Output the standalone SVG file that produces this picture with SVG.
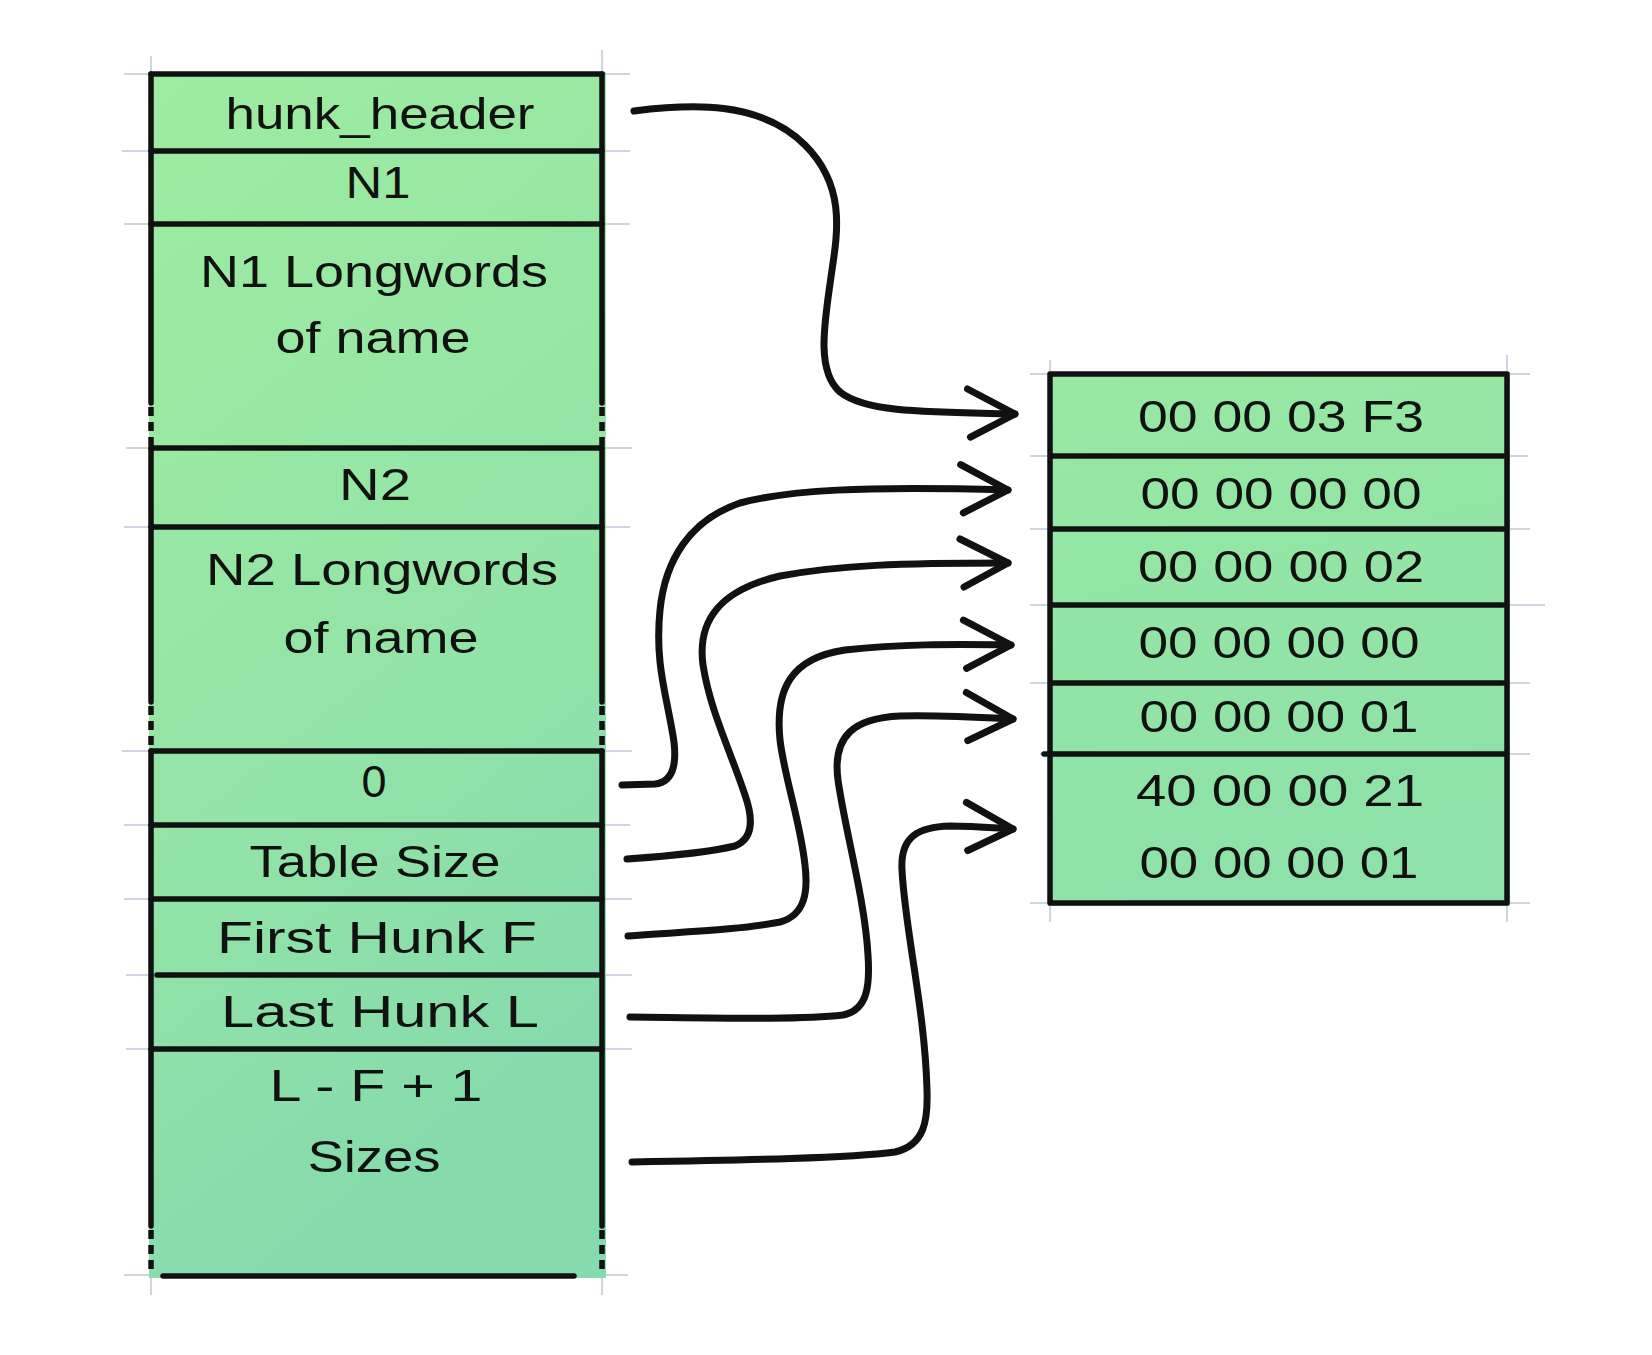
<svg xmlns="http://www.w3.org/2000/svg" width="1652" height="1355" viewBox="0 0 1652 1355">
<defs>
<linearGradient id="gL" x1="0" y1="0" x2="0.3" y2="1">
<stop offset="0" stop-color="#9eeca0"/>
<stop offset="0.6" stop-color="#93e4a6"/>
<stop offset="1" stop-color="#86dbad"/>
</linearGradient>
<linearGradient id="gR" x1="0" y1="0" x2="0.2" y2="1">
<stop offset="0" stop-color="#97e8a2"/>
<stop offset="1" stop-color="#8ee1a8"/>
</linearGradient>
<marker id="ah" markerUnits="userSpaceOnUse" markerWidth="70" markerHeight="70" refX="0" refY="0" viewBox="-60 -35 70 70" orient="auto" overflow="visible">
<path d="M-48,-24 L0,0 L-44,24" fill="none" stroke="#111" stroke-width="7" stroke-linecap="round" stroke-linejoin="round"/>
</marker>
</defs>
<style>
.ln{stroke:#111;stroke-width:5.5;fill:none;stroke-linecap:round}
.dash{stroke:#111;stroke-width:5.5;fill:none;stroke-dasharray:9 6}
.tk{stroke:#7480a8;stroke-width:1.5;opacity:0.45;fill:none}
.t{font-family:"Liberation Sans",Arial,sans-serif;font-size:45px;fill:#111;text-anchor:middle}
.ar{stroke:#111;stroke-width:7;fill:none;stroke-linecap:round;stroke-linejoin:round}
</style>
<rect width="1652" height="1355" fill="#ffffff"/>

<g id="guides">
<path class="tk" d="M124,74H150M603,74H630M122,151H150M603,151H630M124,224H150M603,224H630M126,448H150M603,448H632M124,527H150M603,527H630M122,751H150M603,751H632M124,825H150M603,825H630M124,899H150M603,899H632M126,975H150M603,975H632M126,1049H150M603,1049H632M124,1275H150M603,1275H628"/>
<path class="tk" d="M151,56V74M602,50V74M151,1275V1295M602,1275V1295"/>
<path class="tk" d="M1030,374H1050M1508,374H1530M1030,456H1050M1508,456H1528M1030,529H1050M1508,529H1530M1030,605H1050M1508,605H1545M1030,683H1050M1508,683H1530M1040,754H1050M1508,754H1530M1030,903H1050M1508,903H1530"/>
<path class="tk" d="M1050,360V374M1507,355V374M1050,903V922M1507,903V922"/>
</g>

<g id="left-table">
<rect x="149" y="72" width="457" height="1206" fill="url(#gL)"/>
<path class="ln" d="M151,74H602M151,151H602M151,224H602M151,448H602M151,527H602M151,751H602M151,825H602M151,899H602M157,975H598M151,1049H602"/>
<path class="ln" d="M163,1276H574" stroke-width="6.5"/>
<path class="ln" d="M151,74V403M151,448V702M151,751V1226M602,74V403M602,448V702M602,751V1226"/>
<path class="dash" d="M151,407V448M602,407V448M151,706V751M602,706V751M151,1230V1275M602,1230V1275"/>
</g>

<g id="right-table">
<rect x="1048" y="372" width="462" height="534" fill="url(#gR)"/>
<path class="ln" d="M1050,374H1507M1052,456H1503M1052,529H1503M1050,605H1503M1052,683H1503M1044,754H1507M1050,903H1507M1050,374V903M1507,374V903"/>
</g>

<g id="left-labels">
<text class="t" x="380" y="129" textLength="309" lengthAdjust="spacingAndGlyphs">hunk_header</text>
<text class="t" x="378" y="198" textLength="65" lengthAdjust="spacingAndGlyphs">N1</text>
<text class="t" x="374" y="287" textLength="348" lengthAdjust="spacingAndGlyphs">N1 Longwords</text>
<text class="t" x="373" y="353" textLength="195" lengthAdjust="spacingAndGlyphs">of name</text>
<text class="t" x="375" y="500" textLength="72" lengthAdjust="spacingAndGlyphs">N2</text>
<text class="t" x="382" y="585" textLength="352" lengthAdjust="spacingAndGlyphs">N2 Longwords</text>
<text class="t" x="381" y="653" textLength="195" lengthAdjust="spacingAndGlyphs">of name</text>
<text class="t" x="374" y="797">0</text>
<text class="t" x="375" y="877" textLength="251" lengthAdjust="spacingAndGlyphs">Table Size</text>
<text class="t" x="377" y="953" textLength="320" lengthAdjust="spacingAndGlyphs">First Hunk F</text>
<text class="t" x="380" y="1027" textLength="318" lengthAdjust="spacingAndGlyphs">Last Hunk L</text>
<text class="t" x="376" y="1101" textLength="213" lengthAdjust="spacingAndGlyphs">L - F + 1</text>
<text class="t" x="374" y="1172" textLength="133" lengthAdjust="spacingAndGlyphs">Sizes</text>
</g>

<g id="right-labels">
<text class="t" x="1281" y="432" textLength="286" lengthAdjust="spacingAndGlyphs">00 00 03 F3</text>
<text class="t" x="1281" y="509" textLength="281" lengthAdjust="spacingAndGlyphs">00 00 00 00</text>
<text class="t" x="1281" y="582" textLength="286" lengthAdjust="spacingAndGlyphs">00 00 00 02</text>
<text class="t" x="1279" y="658" textLength="281" lengthAdjust="spacingAndGlyphs">00 00 00 00</text>
<text class="t" x="1279" y="732" textLength="279" lengthAdjust="spacingAndGlyphs">00 00 00 01</text>
<text class="t" x="1280" y="806" textLength="288" lengthAdjust="spacingAndGlyphs">40 00 00 21</text>
<text class="t" x="1279" y="878" textLength="279" lengthAdjust="spacingAndGlyphs">00 00 00 01</text>
</g>

<g id="connectors">
<path class="ar" marker-end="url(#ah)" d="M634,111 C690,104 760,100 805,145 C845,185 838,230 832,270 C825,320 815,370 840,392 C865,412 920,412 1015,414"/>
<path class="ar" marker-end="url(#ah)" d="M622,785 L655,784 C675,782 678,760 672,730 C665,690 655,660 660,610 C665,560 690,520 740,503 C790,490 860,486 1008,490"/>
<path class="ar" marker-end="url(#ah)" d="M627,859 C670,856 710,852 735,846 C755,838 752,815 745,795 C730,750 710,710 703,665 C697,620 720,590 780,576 C840,565 900,563 1008,563"/>
<path class="ar" marker-end="url(#ah)" d="M628,936 C680,932 740,930 780,922 C806,915 808,890 805,865 C800,820 785,780 780,740 C775,690 790,658 845,650 C900,644 950,644 1011,645"/>
<path class="ar" marker-end="url(#ah)" d="M630,1017 C720,1018 800,1020 843,1015 C868,1010 870,985 868,955 C865,900 845,830 838,780 C832,735 855,718 900,716 C940,715 975,717 1013,719"/>
<path class="ar" marker-end="url(#ah)" d="M632,1162 C750,1160 850,1158 895,1152 C925,1145 928,1120 927,1090 C925,1010 905,930 902,870 C900,835 920,827 950,826 C975,826 995,828 1013,829"/>
</g>
</svg>
